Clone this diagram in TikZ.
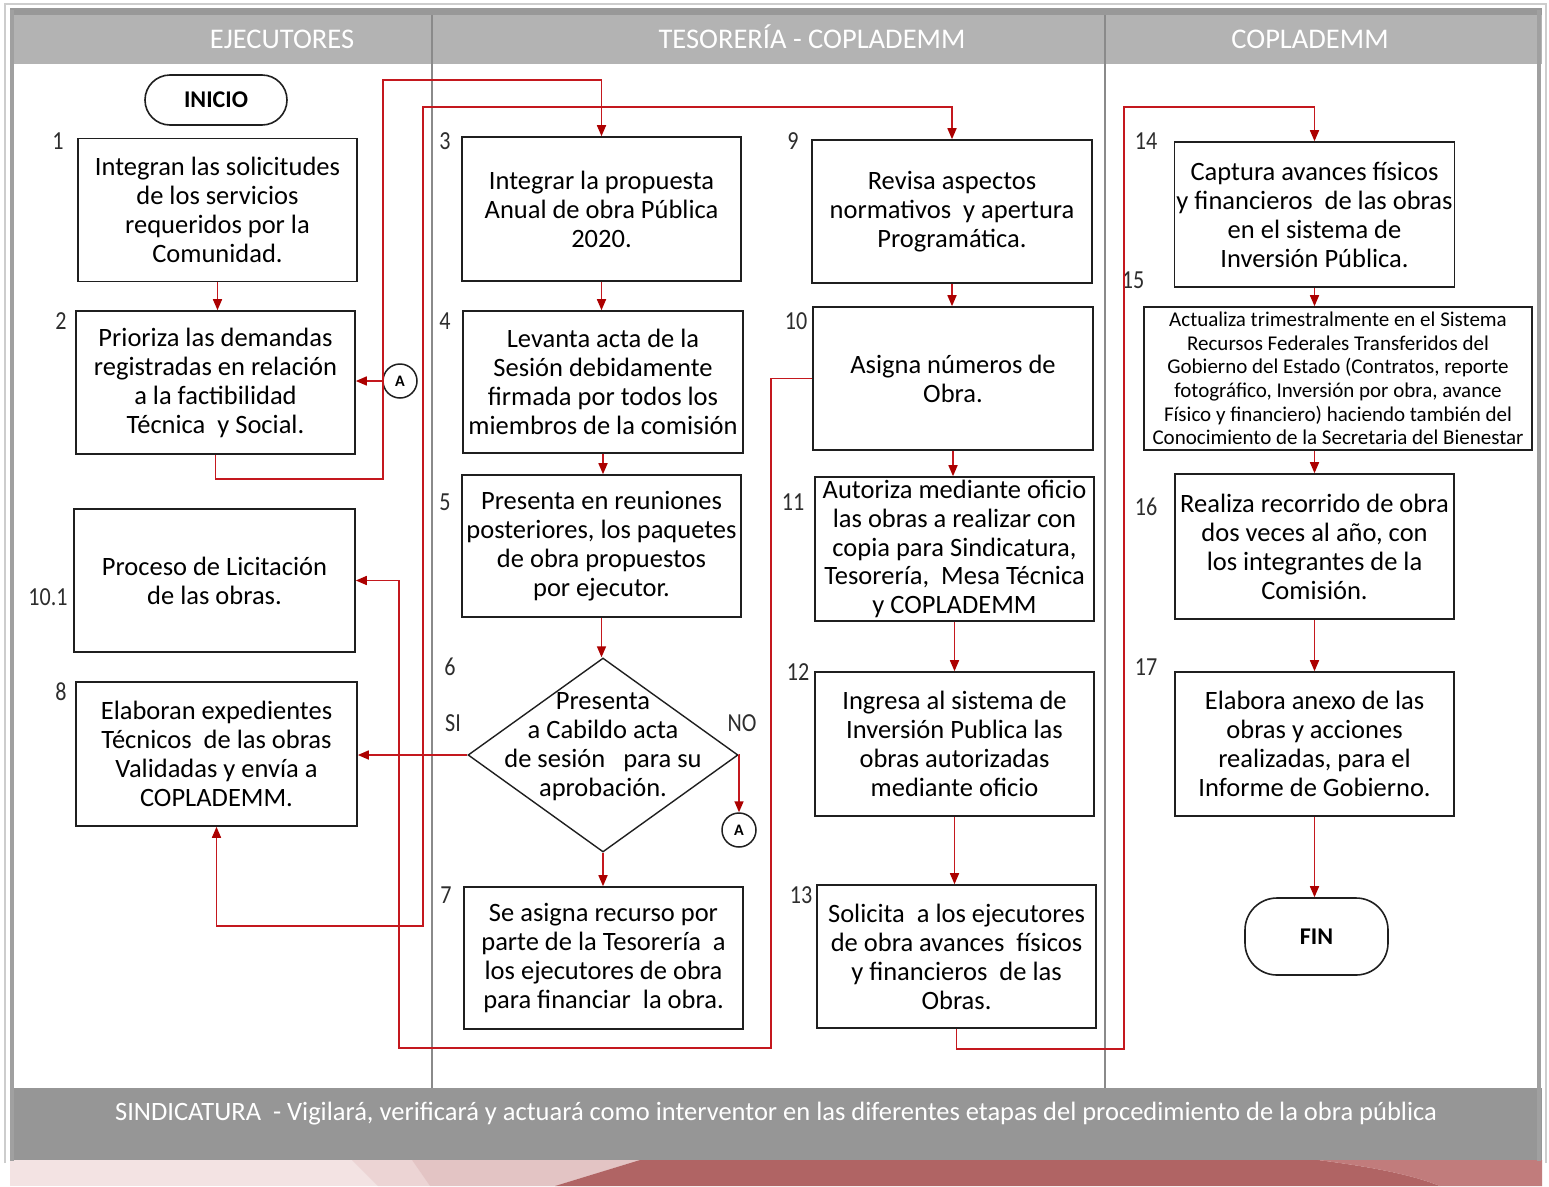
\documentclass[tikz,border=0pt]{standalone}
\usepackage{fontspec}
\setmainfont{Carlito}
\usetikzlibrary{shapes.geometric,arrows.meta}
\definecolor{flowred}{RGB}{196,24,30}
\definecolor{tipred}{RGB}{172,0,0}
\definecolor{hdrgrey}{RGB}{179,179,179}
\definecolor{hdrdark}{RGB}{152,152,152}
\definecolor{botgrey}{RGB}{150,150,150}
\definecolor{lanegrey}{RGB}{138,138,138}
\definecolor{framegrey}{RGB}{160,160,160}
\definecolor{framelight}{RGB}{205,205,205}
\definecolor{numgrey}{RGB}{45,45,45}
\definecolor{pinkA}{RGB}{243,227,227}
\definecolor{pinkB}{RGB}{236,212,212}
\definecolor{pinkC}{RGB}{227,196,196}
\definecolor{redD}{RGB}{176,100,100}
\definecolor{redE}{RGB}{193,124,124}
\begin{document}
\begin{tikzpicture}[x=1pt,y=-1pt,
  box/.style={draw=black!88, line width=1.6pt, fill=white, inner sep=2pt, align=center,
    font=\fontsize{26.5}{29}\selectfont, minimum width=279pt, minimum height=143pt},
  smallbox/.style={box, font=\fontsize{21}{23.7}\selectfont, inner sep=1pt},
  term/.style={draw=black!88, line width=1.6pt, fill=white, rounded corners=25pt,
    font=\bfseries\fontsize{24}{24}\selectfont, inner sep=0pt},
  circ/.style={circle, draw=black!88, line width=1.5pt, minimum size=34pt, inner sep=0pt,
    fill=white, font=\bfseries\fontsize{16}{16}\selectfont},
  dia/.style={diamond, draw=black!88, line width=1.4pt, minimum width=270pt,
    minimum height=194pt, aspect=1.39, inner sep=0pt},
  dtext/.style={align=center, font=\fontsize{26.5}{29}\selectfont, inner sep=0pt},
  num/.style={text=numgrey, font=\fontsize{26}{26}\selectfont, inner sep=0pt},
  hdr/.style={text=white, font=\fontsize{28.5}{28.5}\selectfont, inner sep=0pt, anchor=base},
  flow/.style={draw=flowred, line width=1.6pt,
    -{Triangle[length=11pt,width=9pt,color=tipred]}},
  flowboth/.style={draw=flowred, line width=1.6pt,
    {Triangle[length=11pt,width=9pt,color=tipred]}-{Triangle[length=11pt,width=9pt,color=tipred]}}
]
\useasboundingbox (0,0) rectangle (1549,1186);
\fill[white] (0,0) rectangle (1549,1186);
% decorative bottom band
\fill[pinkA] (10,1160) rectangle (1542,1186);
\fill[pinkB] (352,1160) -- (412,1160) -- (430,1186) -- (378,1186) -- cycle;
\fill[pinkC] (412,1160) -- (640,1160) -- (555,1186) -- (430,1186) -- cycle;
\fill[redD] (640,1160) -- (1318,1160) .. controls (1380,1168) and (1415,1176) .. (1440,1186) -- (555,1186) -- cycle;
\fill[redE] (1318,1160) -- (1542,1160) -- (1542,1186) -- (1440,1186) .. controls (1415,1176) and (1380,1168) .. (1318,1160) -- cycle;
% frame
\draw[framelight, line width=1.5pt] (5,1163) -- (5,4) -- (1546,4) -- (1546,1163);
\fill[hdrdark] (10,8) rectangle (1542,15);
\fill[hdrgrey] (10,15) rectangle (1542,64);
\fill[botgrey] (10,1088) rectangle (1542,1160);
\draw[framegrey, line width=4pt] (12,10) -- (12,1161);
\draw[framegrey, line width=4pt] (1539,10) -- (1539,1161);
\draw[lanegrey, line width=2.5pt] (432,15) -- (432,1088);
\draw[lanegrey, line width=2.5pt] (1105,15) -- (1105,1088);
% header and footer texts
\node[hdr] (h1) at (282,48) {EJECUTORES};
\node[hdr] (h2) at (812,48) {TESORERÍA - COPLADEMM};
\node[hdr] (h3) at (1310,48) {COPLADEMM};
\node[text=white, font=\fontsize{26.5}{26.5}\selectfont, inner sep=0pt, anchor=base] (foot) at (776,1120)
  {SINDICATURA\ \ - Vigilará, verificará y actuará como interventor en las diferentes etapas del procedimiento de la obra pública};

% lane 1
\node[term, minimum width=142pt, minimum height=50pt] (ini) at (216,100) {INICIO};
\node[box] (b1) at (217.5,210) {Integran las solicitudes\\de los servicios\\requeridos por la\\Comunidad.};
\node[box] (b2) at (215.5,382.5) {Prioriza las demandas\\registradas en relación\\a la factibilidad\\Técnica\ \ y Social.};
\node[box, minimum width=281pt] (b101) at (214.5,580.5) {Proceso de Licitación\\de las obras.};
\node[box, minimum width=281pt, minimum height=144pt] (b8) at (216.5,754) {Elaboran expedientes\\Técnicos\ \ de las obras\\Validadas y envía a\\COPLADEMM.};
\node[circ] (a1) at (400,381) {A};

% lane 2
\node[box, minimum height=144pt] (b3) at (601.5,209) {Integrar la propuesta\\Anual de obra Pública\\2020.};
\node[box, minimum width=280pt, minimum height=142pt] (b4) at (603,382) {Levanta acta de la\\Sesión debidamente\\firmada por todos los\\miembros de la comisión};
\node[box, minimum height=142pt] (b5) at (601.5,546) {Presenta en reuniones\\posteriores, los paquetes\\de obra propuestos\\por ejecutor.};
\node[dia] (d6) at (603,755) {};
\node[dtext] (d6t) at (603,747) {Presenta\\a Cabildo acta\\de sesión\ \ \ para su\\aprobación.};
\node[box, minimum height=142pt] (b7) at (603.5,958) {Se asigna recurso por\\parte de la Tesorería\ \ a\\los ejecutores de obra\\para financiar\ \ la obra.};
\node[circ] (a2) at (739,830) {A};

% lane 2b
\node[box, minimum width=280pt] (b9) at (952,211.5) {Revisa aspectos\\normativos\ \ y apertura\\Programática.};
\node[box, minimum width=280pt] (b10) at (953,378.5) {Asigna números de\\Obra.};
\node[box, minimum height=144pt, font=\fontsize{26.5}{28.6}\selectfont, inner sep=0pt] (b11) at (954.5,549) {Autoriza mediante oficio\\las obras a realizar con\\copia para Sindicatura,\\Tesorería,\ \ Mesa Técnica\\y COPLADEMM};
\node[box, minimum height=144pt] (b12) at (954.5,744) {Ingresa al sistema de\\Inversión Publica las\\obras autorizadas\\mediante oficio};
\node[box] (b13) at (956.5,956.5) {Solicita\ \ a los ejecutores\\de obra avances\ \ físicos\\y financieros\ \ de las\\Obras.};

% lane 3
\node[box, minimum height=145pt] (b14) at (1314.5,214.5) {Captura avances físicos\\y financieros\ \ de las obras\\en el sistema de\\Inversión Pública.};
\node[smallbox, minimum width=388pt] (b15) at (1338,378.5) {Actualiza trimestralmente en el Sistema\\Recursos Federales Transferidos del\\Gobierno del Estado (Contratos, reporte\\fotográfico, Inversión por obra, avance\\Físico y financiero) haciendo también del\\Conocimiento de la Secretaria del Bienestar};
\node[box, minimum height=145pt] (b16) at (1314.5,546.5) {Realiza recorrido de obra\\dos veces al año, con\\los integrantes de la\\Comisión.};
\node[box, minimum height=144pt] (b17) at (1314.5,744) {Elabora anexo de las\\obras y acciones\\realizadas, para el\\Informe de Gobierno.};
\node[term, minimum width=143pt, minimum height=77pt, rounded corners=32pt] (fin) at (1316.5,936.5) {FIN};

% step numbers
\node[num] (n1) at (58,141) {\scalebox{0.85}[1]{1}};
\node[num] (n2) at (61,321) {\scalebox{0.85}[1]{2}};
\node[num] (n101) at (48,597) {\scalebox{0.85}[1]{10.1}};
\node[num] (n8) at (61,692) {\scalebox{0.85}[1]{8}};
\node[num] (n3) at (445,141) {\scalebox{0.85}[1]{3}};
\node[num] (n4) at (445,321) {\scalebox{0.85}[1]{4}};
\node[num] (n5) at (445,502) {\scalebox{0.85}[1]{5}};
\node[num] (n6) at (450,667) {\scalebox{0.85}[1]{6}};
\node[num] (n7) at (446,895) {\scalebox{0.85}[1]{7}};
\node[num] (si) at (453,723) {\scalebox{0.85}[1]{SI}};
\node[num] (no) at (742,723) {\scalebox{0.85}[1]{NO}};
\node[num] (n9) at (793,141) {\scalebox{0.85}[1]{9}};
\node[num] (n10) at (796,321) {\scalebox{0.85}[1]{10}};
\node[num] (n11) at (793,502) {\scalebox{0.85}[1]{11}};
\node[num] (n12) at (798,672) {\scalebox{0.85}[1]{12}};
\node[num] (n13) at (801,895) {\scalebox{0.85}[1]{13}};
\node[num] (n14) at (1146,141) {\scalebox{0.85}[1]{14}};
\node[num] (n15) at (1133,280) {\scalebox{0.85}[1]{15}};
\node[num] (n16) at (1146,507) {\scalebox{0.85}[1]{16}};
\node[num] (n17) at (1146,667) {\scalebox{0.85}[1]{17}};

% connectors
\draw[flow] (b1.south) -- (b1.south |- b2.north);
\draw[flow] (b2.south) -- ++(0,24) -| (383,80) -| (b3.north);
\draw[flow] (a1.west) -- (b2.east |- a1.west);
\draw[flow] (b3.south) -- (b3.south |- b4.north);
\draw[flow] (b4.south) -- (b4.south |- b5.north);
\draw[flow] (b5.south) -- (b5.south |- d6.north);
\draw[flow] (d6.south) -- (d6.south |- b7.north);
\draw[flow] (d6.west) -- (b8.east |- d6.west);
\draw[flow] (d6.east) -| (a2.north);
\draw[flowboth] (b8.south) -- ++(0,99) -| (423,107) -| (b9.north);
\draw[flow] (b10.west) -- ++(-41,0) |- (399,1048) |- (b101.east);
\draw[flow] (b9.south) -- (b9.south |- b10.north);
\draw[flow] (b10.south) -- (b10.south |- b11.north);
\draw[flow] (b11.south) -- (b11.south |- b12.north);
\draw[flow] (b12.south) -- (b12.south |- b13.north);
\draw[flow] (b13.south) -- ++(0,20) -| (1124,107) -| (b14.north);
\draw[flow] (b14.south) -- (b14.south |- b15.north);
\draw[flow] (b16.north |- b15.south) -- (b16.north);
\draw[flow] (b16.south) -- (b16.south |- b17.north);
\draw[flow] (b17.south) -- (b17.south |- fin.north);
\end{tikzpicture}
\end{document}
